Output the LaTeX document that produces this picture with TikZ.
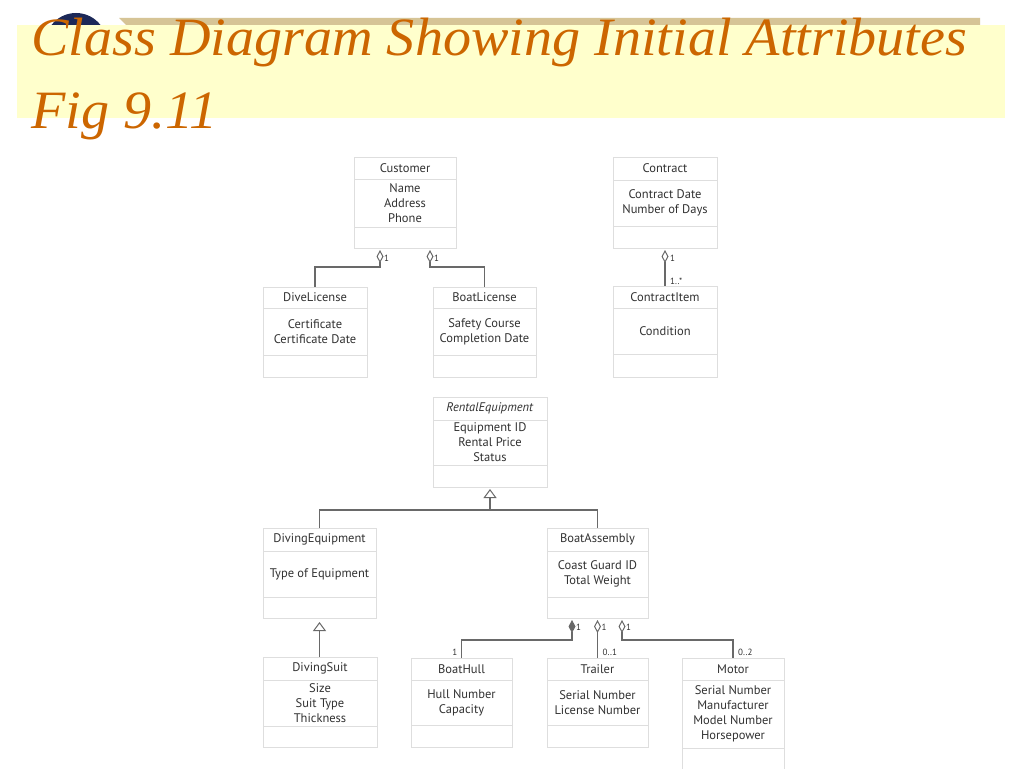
\documentclass[tikz,border=0pt]{standalone}
\usepackage{fontspec}
\setmainfont{Liberation Serif}
\newfontfamily\umlfont{PT Sans}
\usetikzlibrary{positioning,calc,arrows.meta}

\definecolor{titlebrown}{RGB}{204,102,0}
\definecolor{bandyellow}{RGB}{255,255,204}
\definecolor{stripetan}{RGB}{214,196,150}
\definecolor{globeblue}{RGB}{28,40,88}
\definecolor{boxgray}{RGB}{222,222,222}
\definecolor{linegray}{RGB}{105,105,105}
\definecolor{textgray}{RGB}{50,50,50}

\tikzset{
  title/.style={anchor=base west, inner sep=0pt, text=titlebrown, xscale=1.04, font=\fontsize{54}{60}\selectfont\itshape},
  clsbox/.style={draw=boxgray, line width=0.8pt, outer sep=0pt, inner sep=0pt, text=textgray, font=\umlfont\fontsize{12.5}{15}\selectfont, align=center},
  assoc/.style={draw=linegray, line width=1.2pt},
  agg/.style={assoc, {Diamond[open,length=13pt,width=7pt,line width=1pt]}-},
  comp/.style={assoc, {Diamond[length=13pt,width=7pt]}-},
  gen/.style={assoc, {Triangle[open,length=9pt,width=13pt,line width=1pt]}-},
  mult/.style={text=textgray, font=\umlfont\fontsize{9}{10}\selectfont, inner sep=0pt},
}

% one class = name, attribute and operation compartments
\newcommand{\umlclass}[8]{%
  \node[clsbox, anchor=north west, minimum width=#3, minimum height=#4] (#1) at (#2) {#7};
  \node[clsbox, minimum width=#3, minimum height=#5, below=0pt of #1] (#1-a) {#8};
  \node[clsbox, minimum width=#3, minimum height=#6, below=0pt of #1-a] (#1-o) {};}

\begin{document}
\begin{tikzpicture}[x=1pt,y=-1pt]

\fill[white] (0,0) rectangle (1024,768);
\useasboundingbox (0,0) rectangle (1024,768);

% title band
\fill[globeblue] (76,44) circle (31pt);
\fill[stripetan] (119,18) -- (980,18) -- (980,25) -- (126,25) -- cycle;
\fill[bandyellow] (17,25) rectangle (1005,118);
\node[title] (t1) at (31,56) {Class Diagram Showing Initial Attributes};
\node[title] (t2) at (31,128) {Fig 9.11};

% classes
\umlclass{cust}{354,157}{102pt}{22pt}{48pt}{21pt}{Customer}{Name\\Address\\Phone}
\umlclass{contract}{613,157}{104pt}{23pt}{46pt}{22pt}{Contract}{Contract Date\\Number of Days}
\umlclass{dlic}{263,287}{104pt}{21pt}{47pt}{22pt}{DiveLicense}{Certificate\\Certificate Date}
\umlclass{blic}{433,287}{103pt}{21pt}{47pt}{22pt}{BoatLicense}{Safety Course\\Completion Date}
\umlclass{citem}{613,286}{104pt}{22pt}{46pt}{23pt}{ContractItem}{Condition}
\umlclass{rent}{433,397}{114pt}{23pt}{45pt}{22pt}{\textit{RentalEquipment}}{Equipment ID\\Rental Price\\Status}
\umlclass{deq}{263,528}{113pt}{23pt}{46pt}{21pt}{DivingEquipment}{Type of Equipment}
\umlclass{boat}{547,528}{101pt}{23pt}{46pt}{21pt}{BoatAssembly}{Coast Guard ID\\Total Weight}
\umlclass{suit}{263,657}{114pt}{23pt}{46pt}{21pt}{DivingSuit}{Size\\Suit Type\\Thickness}
\umlclass{hull}{411,658}{101pt}{22pt}{45pt}{22pt}{BoatHull}{Hull Number\\Capacity}
\umlclass{trailer}{547,658}{101pt}{22pt}{45pt}{22pt}{Trailer}{Serial Number\\License Number}
\umlclass{motor}{682,658}{102pt}{22pt}{68pt}{22pt}{Motor}{Serial Number\\Manufacturer\\Model Number\\Horsepower}

% customer licenses
\coordinate (ca1) at ($(cust-o.south west)+(26,2)$);
\coordinate (ca2) at ($(cust-o.south west)+(76,2)$);
\draw[agg] (ca1) -- ++(0,17) -| (dlic.north);
\draw[agg] (ca2) -- ++(0,17) -| (blic.north);
\node[mult, anchor=west] (m1) at ($(ca1)+(4,8)$) {1};
\node[mult, anchor=west] (m2) at ($(ca2)+(4,8)$) {1};

% contract items
\coordinate (cc) at ($(contract-o.south)+(0,2)$);
\draw[agg] (cc) -- (citem.north);
\node[mult, anchor=west] (m3) at ($(cc)+(5,8)$) {1};
\node[mult, anchor=west] (m4) at ($(citem.north)+(5,-5)$) {1..*};

% generalization
\draw[gen] ($(rent-o.south)+(0,2)$) -- ++(0,21) coordinate (gj);
\draw[assoc] (deq.north) |- (gj) -| (boat.north);
\draw[gen] ($(deq-o.south)+(0,4)$) -- (deq-o.south |- suit.north);

% boat parts
\coordinate (bc) at ($(boat-o.south west)+(25,2)$);
\coordinate (bt) at ($(boat-o.south)+(0,2)$);
\coordinate (bm) at ($(boat-o.south west)+(75,2)$);
\draw[comp] (bc) -- ++(0,20) -| (hull.north);
\draw[agg] (bt) -- (trailer.north);
\draw[agg] (bm) -- ++(0,20) -| (motor.north);
\node[mult, anchor=west] (m5) at ($(bc)+(4,7)$) {1};
\node[mult, anchor=west] (m6) at ($(bt)+(4,7)$) {1};
\node[mult, anchor=west] (m7) at ($(bm)+(4,7)$) {1};
\node[mult, anchor=east] (m8) at ($(hull.north)+(-4,-6)$) {1};
\node[mult, anchor=west] (m9) at ($(trailer.north)+(5,-6)$) {0..1};
\node[mult, anchor=west] (m10) at ($(motor.north)+(5,-6)$) {0..2};

\end{tikzpicture}
\end{document}
